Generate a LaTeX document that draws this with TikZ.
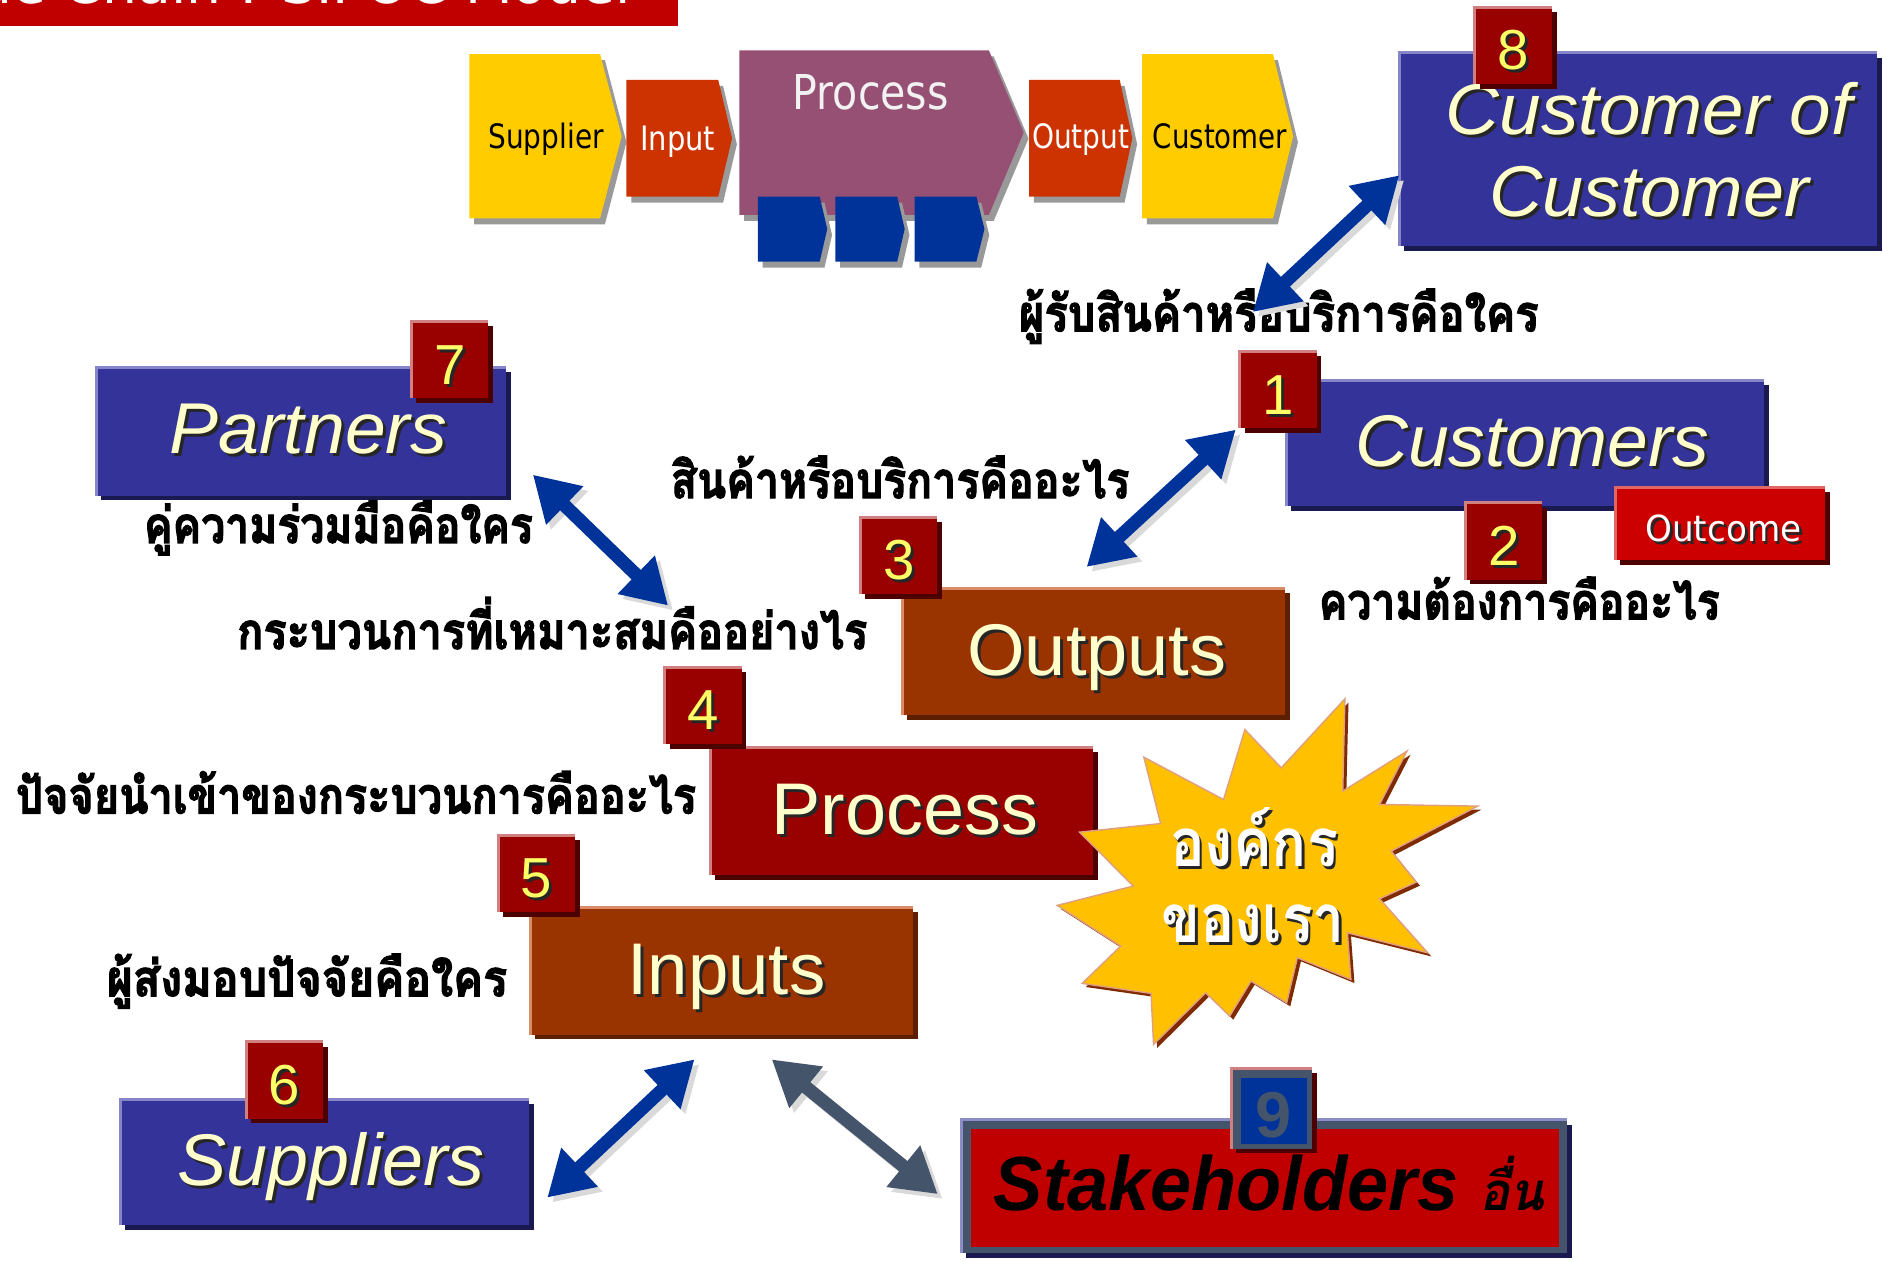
\documentclass[tikz,border=0pt]{standalone}
\usepackage{fontspec}
\setmainfont{Liberation Sans}
\newfontfamily\tah{DejaVu Sans}
\newfontfamily\thai[Script=Thai]{Loma}
\newfontfamily\thaiblk[Script=Thai,FakeBold=2.5]{Loma}
\usetikzlibrary{arrows.meta,shadows,calc}
\definecolor{titlered}{HTML}{C00000}
\definecolor{sipyellow}{HTML}{FFCC00}
\definecolor{siporange}{HTML}{CC3300}
\definecolor{sipmauve}{HTML}{955073}
\definecolor{sipblue}{HTML}{003399}
\definecolor{chevshadow}{HTML}{999999}
\definecolor{boxblue}{HTML}{333399}
\definecolor{bluehl}{HTML}{8585C8}
\definecolor{bluesh}{HTML}{1A1A50}
\definecolor{boxbrown}{HTML}{993300}
\definecolor{brownhl}{HTML}{D98C66}
\definecolor{brownsh}{HTML}{5C1F00}
\definecolor{darkred}{HTML}{990000}
\definecolor{redhl}{HTML}{D08080}
\definecolor{redsh}{HTML}{4D0000}
\definecolor{outcomered}{HTML}{CC0000}
\definecolor{outcomehl}{HTML}{E06666}
\definecolor{textyellow}{HTML}{FFFFCC}
\definecolor{digityellow}{HTML}{FFFF66}
\definecolor{arrowblue}{HTML}{003399}
\definecolor{arrowslate}{HTML}{44546A}
\definecolor{arrowshadow}{HTML}{D9D9D9}
\definecolor{staryellow}{HTML}{FFC000}
\definecolor{starhl}{HTML}{E0A080}
\definecolor{starshadow}{HTML}{7F2A00}
\definecolor{stakered}{HTML}{C00000}
\definecolor{slate}{HTML}{44546A}
\definecolor{lavender}{HTML}{8C8CC6}
\newcommand\fsz[1]{\fontsize{#1}{#1}\selectfont}
\newsavebox\fitbox
\newcommand\fitw[2]{\sbox\fitbox{#2}\pgfmathsetmacro\fitsc{#1/\the\wd\fitbox}\scalebox{\fitsc}[1]{\usebox\fitbox}}
\newcommand\shd[2][black!85]{\rlap{\kern2.5pt\raisebox{-2.5pt}{\textcolor{#1}{#2}}}#2}
\tikzset{
 rbox/.style={rectangle,inner sep=0pt,outer sep=0pt,anchor=north west,draw=none},
 bshadow/.style={drop shadow={shadow xshift=4pt,shadow yshift=-4pt,fill=#1,opacity=1}},
 txt/.style={inner sep=0pt,outer sep=0pt,anchor=base},
 hl/.style={line width=2.5pt,draw=#1},
 dbl/.style={line width=11pt,draw=#1,{Triangle[length=37pt,width=42pt]}-{Triangle[length=37pt,width=42pt]}},
 dblsh/.style={dbl=arrowshadow,transform canvas={xshift=4pt,yshift=-4pt}},
}
\newcommand\mkbox[8]{%
 \node[rbox,fill=#6,minimum width=#4pt,minimum height=#5pt,bshadow=#8] (#1) at (#2,#3) {};
 \draw[hl=#7] (#1.south west) -- (#1.north west) -- (#1.north east);
}
\newcommand\mkbadge[4]{%
 \mkbox{#1}{#2}{#3}{64}{64}{darkred}{redhl}{redsh}
 \node[txt,text=digityellow] (#1t) at (#2+32,#3+52) {\fsz{47}\shd{#4}};
}
\newcommand\chev[6]{%
 \fill[chevshadow,shift={(4,5)}] (#1,#2) -- (#3,#2) -- (#4,{(#2+#5)/2}) -- (#3,#5) -- (#1,#5) -- cycle;
 \fill[#6] (#1,#2) -- (#3,#2) -- (#4,{(#2+#5)/2}) -- (#3,#5) -- (#1,#5) -- cycle;
}
\begin{document}
\begin{tikzpicture}[x=1pt,y=-1pt]
\useasboundingbox (0,0) rectangle (1569,1050);
% title bar
\fill[titlered] (0,-5) rectangle (565,21.6);
\node[inner sep=0pt,anchor=base east,text=white] (title) at (526,2.6) {\tah\fsz{46}Value Chain : SIPOC Model};
% SIPOC strip
\chev{391}{45}{500}{518}{182}{sipyellow}
\chev{522}{66.6}{598.5}{610}{163.8}{siporange}
\chev{616}{42}{824}{853}{179}{sipmauve}
\chev{631.4}{163.8}{683}{689.3}{217.9}{sipblue}
\chev{696}{163.8}{747.6}{753.8}{217.9}{sipblue}
\chev{762}{163.8}{813.6}{820.3}{217.9}{sipblue}
\chev{857.5}{66.6}{933}{943.5}{163.8}{siporange}
\chev{951.7}{45}{1060.7}{1077.5}{182}{sipyellow}
\node[txt,text=black] (sSup) at (455,124) {\fitw{96}{\tah\fsz{28}Supplier}};
\node[txt,text=white] (sInp) at (564.7,125) {\fitw{62.5}{\tah\fsz{28}Input}};
\node[txt,text=black!5] (sPro) at (725.6,91.6) {\fitw{130}{\tah\fsz{40}Process}};
\node[txt,text=white] (sOut) at (900.5,124) {\fitw{81}{\tah\fsz{28}Output}};
\node[txt,text=black] (sCus) at (1016.5,124) {\fitw{112}{\tah\fsz{28}Customer}};
% boxes
\mkbox{ccbox}{1166}{44}{398}{161}{boxblue}{bluehl}{bluesh}
\mkbox{custbox}{1072}{317}{398}{105}{boxblue}{bluehl}{bluesh}
\mkbox{outcbox}{1346}{406}{175}{61}{outcomered}{outcomehl}{redsh}
\mkbox{partbox}{80}{306}{342}{107}{boxblue}{bluehl}{bluesh}
\mkbox{outsbox}{752}{490}{319}{106}{boxbrown}{brownhl}{brownsh}
\mkbox{procbox}{592}{623}{319}{106}{darkred}{redhl}{redsh}
\mkbox{inpbox}{442}{756}{319}{106}{boxbrown}{brownhl}{brownsh}
\mkbox{suppbox}{100}{916}{341}{105}{boxblue}{bluehl}{bluesh}
\mkbox{stakebox}{801}{933}{505}{111}{slate}{lavender}{bluesh}
\node[rbox,fill=stakered,minimum width=490pt,minimum height=98pt] (stakein) at (809,941) {};
% box texts
\node[txt,text=textyellow] (tcc1) at (1374,112.4) {\fitw{338.6}{\fsz{60}\itshape\shd{Customer of}}};
\node[txt,text=textyellow] (tcc2) at (1374,180.4) {\fitw{266.5}{\fsz{60}\itshape\shd{Customer}}};
\node[txt,text=textyellow] (tcust) at (1276.7,388.6) {\fitw{295}{\fsz{61}\itshape\shd{Customers}}};
\node[txt,text=white] (toutc) at (1436,451) {\fitw{130}{\tah\fsz{30}\shd{Outcome}}};
\node[txt,text=textyellow] (tpart) at (257,378) {\fitw{231}{\fsz{60}\itshape\shd{Partners}}};
\node[txt,text=textyellow] (touts) at (914,563) {\fitw{216}{\fsz{61}\shd{Outputs}}};
\node[txt,text=textyellow] (tproc) at (754,695.3) {\fitw{222}{\fsz{61}\shd{Process}}};
\node[txt,text=textyellow] (tinp) at (605.4,828.5) {\fitw{164.7}{\fsz{61}\shd{Inputs}}};
\node[txt,text=textyellow] (tsupp) at (276,988) {\fitw{256}{\fsz{61}\itshape\shd{Suppliers}}};
\node[txt,text=black] (tstake) at (1057.5,1009) {\fitw{459}{\fsz{64}\bfseries\itshape Stakeholders\ {\thai\fsz{44}อื่น}}};
% star
\fill[starshadow,shift={(3,3)}] (1120.6,582.3) -- (1118.8,659.2) -- (1172.3,625.9) -- (1149.5,670.3) -- (1231.2,671.7) -- (1159.2,709.2) -- (1180.1,735) -- (1149.5,748.9) -- (1189.6,793.9) -- (1122.7,777.2) -- (1125.6,816.1) -- (1081,798) -- (1072.1,835.5) -- (1042.4,817.5) -- (1024.6,846.6) -- (1004.6,827.2) -- (961.2,870.2) -- (959.1,827.7) -- (901.7,819.4) -- (933.8,788.3) -- (880.9,754.4) -- (944.2,738.3) -- (899.6,693.4) -- (967.1,686.2) -- (953.1,630.9) -- (1019.5,666.2) -- (1037.3,607.9) -- (1067.6,639.8) -- cycle;
\filldraw[fill=staryellow,draw=starhl,line width=1.2pt,line join=miter] (1120.6,582.3) -- (1118.8,659.2) -- (1172.3,625.9) -- (1149.5,670.3) -- (1231.2,671.7) -- (1159.2,709.2) -- (1180.1,735) -- (1149.5,748.9) -- (1189.6,793.9) -- (1122.7,777.2) -- (1125.6,816.1) -- (1081,798) -- (1072.1,835.5) -- (1042.4,817.5) -- (1024.6,846.6) -- (1004.6,827.2) -- (961.2,870.2) -- (959.1,827.7) -- (901.7,819.4) -- (933.8,788.3) -- (880.9,754.4) -- (944.2,738.3) -- (899.6,693.4) -- (967.1,686.2) -- (953.1,630.9) -- (1019.5,666.2) -- (1037.3,607.9) -- (1067.6,639.8) -- cycle;
\node[txt,text=white] (tstar1) at (1045,721.7) {\fitw{140}{\thai\bfseries\fsz{56}\shd{องค์กร}}};
\node[txt,text=white] (tstar2) at (1044.3,785.5) {\fitw{152.6}{\thai\bfseries\fsz{56}\shd{ของเรา}}};
% badges
\mkbadge{b8}{1229}{6}{8}
\mkbadge{b1}{1033}{293}{1}
\mkbadge{b2}{1221}{419}{2}
\mkbadge{b7}{343}{268}{7}
\mkbadge{b3}{717}{431}{3}
\mkbadge{b4}{554}{556}{4}
\mkbadge{b5}{415}{696}{5}
\mkbadge{b6}{205}{868}{6}
\mkbox{b9}{1026}{890}{67}{67}{slate}{redhl}{redsh}
\node[rbox,fill=sipblue,minimum width=55pt,minimum height=55pt] (b9in) at (1034,898) {};
\node[txt,text=slate] (b9t) at (1061.5,947.7) {\fsz{54}\bfseries 9};
% Thai labels
\node[txt] (t8) at (1065.5,276) {\fitw{433}{\thaiblk\bfseries\fsz{42}ผู้รับสินค้าหรือบริการคือใคร}};
\node[txt] (t2) at (1265.9,516) {\fitw{334}{\thaiblk\bfseries\fsz{42}ความต้องการคืออะไร}};
\node[txt] (t1) at (750,415) {\fitw{382}{\thaiblk\bfseries\fsz{42}สินค้าหรือบริการคืออะไร}};
\node[txt] (t7) at (282,452.4) {\fitw{324}{\thaiblk\bfseries\fsz{42}คู่ความร่วมมือคือใคร}};
\node[txt] (t3) at (460.2,540.7) {\fitw{525}{\thaiblk\bfseries\fsz{42}กระบวนการที่เหมาะสมคืออย่างไร}};
\node[txt] (t4) at (296.6,677.8) {\fitw{566.7}{\thaiblk\bfseries\fsz{42}ปัจจัยนำเข้าของกระบวนการคืออะไร}};
\node[txt] (t5) at (255.8,830) {\fitw{333.7}{\thaiblk\bfseries\fsz{42}ผู้ส่งมอบปัจจัยคือใคร}};
% arrows
\coordinate (a8s) at (1044,260); \coordinate (a8e) at (1166,146);
\coordinate (a1s) at (905.4,472.4); \coordinate (a1e) at (1029.7,358);
\coordinate (a7s) at (444,395.5); \coordinate (a7e) at (556.7,504.6);
\coordinate (a6s) at (456,997.9); \coordinate (a6e) at (578.7,882.7);
\coordinate (a9s) at (643,882.7); \coordinate (a9e) at (781.4,995);
\draw[dblsh] (a8s) -- (a8e);
\draw[dblsh] (a1s) -- (a1e);
\draw[dblsh] (a7s) -- (a7e);
\draw[dblsh] (a6s) -- (a6e);
\draw[dblsh] (a9s) -- (a9e);
\draw[dbl=arrowblue] (a8s) -- (a8e);
\draw[dbl=arrowblue] (a1s) -- (a1e);
\draw[dbl=arrowblue] (a7s) -- (a7e);
\draw[dbl=arrowblue] (a6s) -- (a6e);
\draw[dbl=arrowslate] (a9s) -- (a9e);
\end{tikzpicture}
\end{document}
